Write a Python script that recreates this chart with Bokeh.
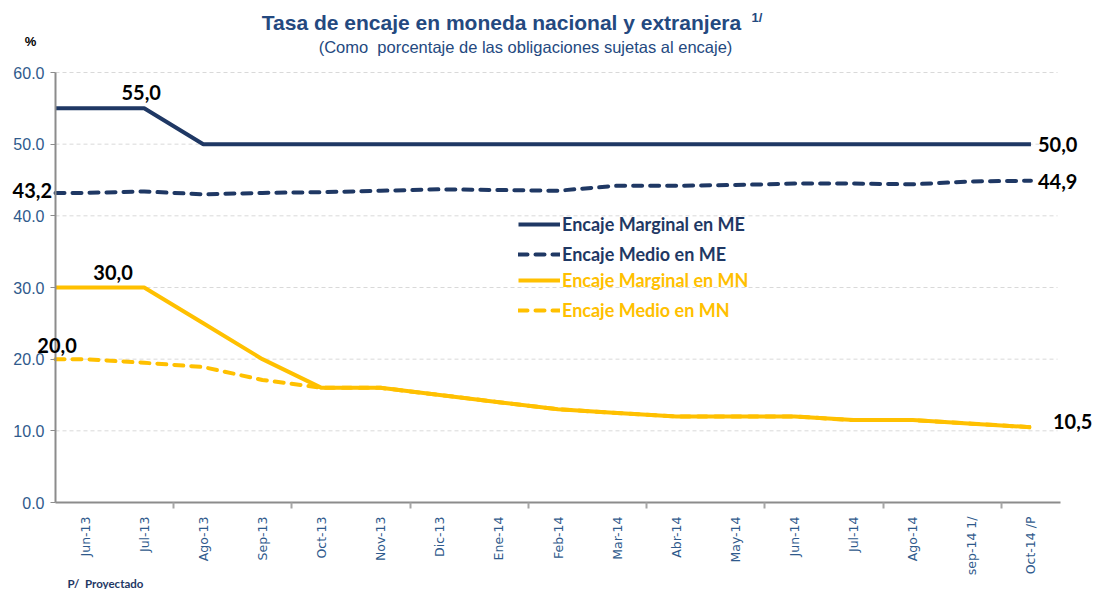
import math
from bokeh.plotting import figure
from bokeh.models import (FixedTicker, NumeralTickFormatter, Legend, LegendItem,
                          Label, Range1d)
from bokeh.embed import file_html
from bokeh.resources import INLINE

# ---------------- data ----------------
categories = ["Jun-13", "Jul-13", "Ago-13", "Sep-13", "Oct-13", "Nov-13", "Dic-13",
              "Ene-14", "Feb-14", "Mar-14", "Abr-14", "May-14", "Jun-14", "Jul-14",
              "Ago-14", "sep-14 1/", "Oct-14 /P"]
marginal_me = [55.0, 55.0, 50.0, 50.0, 50.0, 50.0, 50.0, 50.0, 50.0, 50.0,
               50.0, 50.0, 50.0, 50.0, 50.0, 50.0, 50.0]
medio_me = [43.2, 43.4, 43.0, 43.2, 43.3, 43.5, 43.7, 43.6, 43.5, 44.2,
            44.2, 44.3, 44.5, 44.5, 44.4, 44.8, 44.9]
marginal_mn = [30.0, 30.0, 25.0, 20.0, 16.0, 16.0, 15.0, 14.0, 13.0, 12.5,
               12.0, 12.0, 12.0, 11.5, 11.5, 11.0, 10.5]
medio_mn = [20.0, 19.5, 18.9, 17.1, 16.0, 16.0, 15.0, 14.0, 13.0, 12.5,
            12.0, 12.0, 12.0, 11.5, 11.5, 11.0, 10.5]
y_ticks = [0, 10, 20, 30, 40, 50, 60]

NAVY = "#1F3864"
YELLOW = "#FFC000"
BLUE_TXT = "#2F5A8C"
TITLE_C = "#24497F"
GRID = "#D9D9D9"
AXIS_C = "#8C8C8C"

W, H = 1094, 589
n = len(categories)
x_lo, x_hi = -0.5, n - 0.5
y_lo, y_hi = 0, 60

# pixel box of the plotting area inside the canvas
FL, FR, FT, FB = 55, 1060, 72, 502
kx = (x_hi - x_lo) / (FR - FL)
ky = (y_hi - y_lo) / (FB - FT)
def dx(px):
    return x_lo + (px - FL) * kx
def dy(py):
    return y_lo + (FB - py) * ky

p = figure(width=W, height=H, output_backend="svg", toolbar_location=None,
           x_range=Range1d(dx(0), dx(W)), y_range=Range1d(dy(H), dy(0)),
           min_border=0, outline_line_color=None,
           background_fill_color="white", border_fill_color="white")

# ---------- axes (placed inside the canvas at the data origin) ----------
yax = p.yaxis[0]
yax.fixed_location = x_lo
yax.bounds = (y_lo, y_hi)
yax.ticker = FixedTicker(ticks=y_ticks)
yax.formatter = NumeralTickFormatter(format="0.0")
yax.axis_line_color = AXIS_C
yax.axis_line_width = 2
yax.major_tick_line_color = AXIS_C
yax.major_tick_out = 5
yax.major_tick_in = 0
yax.minor_tick_line_color = None
yax.major_label_text_font = "Liberation Sans"
yax.major_label_text_font_size = "16px"
yax.major_label_text_color = BLUE_TXT
yax.major_label_standoff = 6

xax = p.xaxis[0]
xax.fixed_location = y_lo
xax.bounds = (x_lo, x_hi)
centers = list(range(n))
boundaries = [i - 0.5 for i in range(0, n, 2)][1:]
xax.ticker = FixedTicker(ticks=centers, minor_ticks=boundaries)
xax.major_label_overrides = {i: c for i, c in enumerate(categories)}
xax.major_label_orientation = math.pi / 2
xax.axis_line_color = AXIS_C
xax.axis_line_width = 2
xax.major_tick_line_color = None
xax.major_tick_out = 0
xax.major_tick_in = 0
xax.minor_tick_line_color = "#A6A6A6"
xax.minor_tick_line_width = 2
xax.minor_tick_out = 6
xax.minor_tick_in = 0
xax.major_label_text_font = "DejaVu Sans"
xax.major_label_text_font_size = "12.5px"
xax.major_label_text_color = BLUE_TXT
xax.major_label_standoff = 8

p.xgrid.grid_line_color = None
p.ygrid.grid_line_color = None

# horizontal dashed gridlines across the plotting area
p.segment(x0=[x_lo] * (len(y_ticks) - 1), x1=[x_hi - 0.05] * (len(y_ticks) - 1),
          y0=y_ticks[1:], y1=y_ticks[1:], line_color=GRID, line_width=1,
          line_dash="4 3")

# ---------- lines (first value carried to the left edge of the plot) ----------
xs = [x_lo] + centers
def ext(vals):
    return [vals[0]] + list(vals)

r_mmn_d = p.line(xs, ext(medio_mn), line_color=YELLOW, line_width=4,
                 line_dash="9 8", line_cap="round")
r_mmn = p.line(xs, ext(marginal_mn), line_color=YELLOW, line_width=4)
r_mme_d = p.line(xs, ext(medio_me), line_color=NAVY, line_width=4,
                 line_dash="9 8", line_cap="round")
r_mme = p.line(xs, ext(marginal_me), line_color=NAVY, line_width=4)

# ---------- legends ----------
def mk_legend(items, color, loc):
    lg = Legend(items=items, location=loc, orientation="vertical",
                label_text_font="Lato", label_text_font_style="bold",
                label_text_font_size="18px", label_text_color=color,
                glyph_width=42, glyph_height=20, label_height=20,
                label_standoff=2, spacing=8, padding=0, margin=0,
                background_fill_alpha=0, border_line_alpha=0)
    p.add_layout(lg, "center")

mk_legend([LegendItem(label="Encaje Marginal en ME", renderers=[r_mme]),
           LegendItem(label="Encaje Medio en ME", renderers=[r_mme_d])],
          NAVY, (518, H - 265))
mk_legend([LegendItem(label="Encaje Marginal en MN", renderers=[r_mmn]),
           LegendItem(label="Encaje Medio en MN", renderers=[r_mmn_d])],
          YELLOW, (518, H - 321))

# ---------- data labels ----------
def fmt(v):
    return f"{v:.1f}".replace(".", ",")

def dlabel(i, vals, xo, yo, align):
    p.add_layout(Label(x=i, y=vals[i], text=fmt(vals[i]), x_offset=xo, y_offset=yo,
                       text_align=align, text_baseline="middle",
                       text_font="Lato", text_font_style="bold",
                       text_font_size="20px", text_color="black"))

dlabel(1, marginal_me, -3, 16, "center")
dlabel(0, marginal_mn, 28, 15, "center")
dlabel(0, medio_me, -33, 2, "right")
dlabel(0, medio_mn, -28, 14, "center")
dlabel(n - 1, marginal_me, 7, 0, "left")
dlabel(n - 1, medio_me, 7, -1, "left")
dlabel(n - 1, marginal_mn, 22, 6, "left")

# ---------- titles and notes ----------
def txt(px, py, s, size, color, style="normal", font="Liberation Sans", align="center"):
    p.add_layout(Label(x=dx(px), y=dy(py), text=s, text_align=align,
                       text_baseline="middle", text_font=font,
                       text_font_style=style, text_font_size=size,
                       text_color=color))

txt(501, 22, "Tasa de encaje en moneda nacional y extranjera", "21px", TITLE_C, "bold")
txt(751, 17, "1/", "13px", TITLE_C, "bold", align="left")
txt(525, 46, "(Como\u00a0 porcentaje de las obligaciones sujetas al encaje)", "16.5px", TITLE_C)
txt(30, 41, "%", "13px", "black", "bold")
txt(67, 583, "P/\u00a0 Proyectado", "11.5px", NAVY, "bold", font="Lato", align="left")

open("out.html", "w").write(file_html(p, INLINE))
